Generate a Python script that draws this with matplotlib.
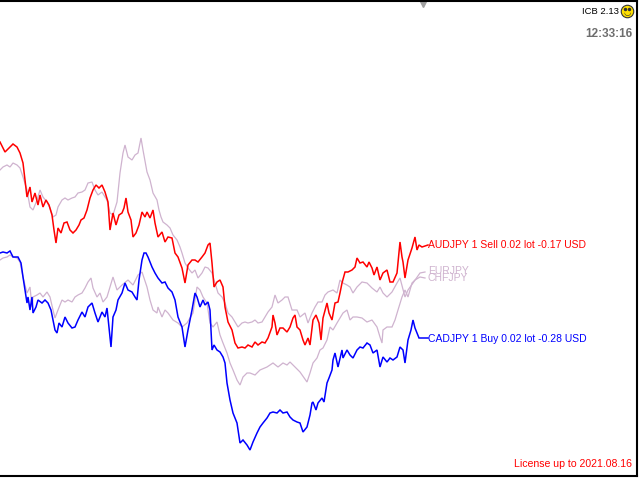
import matplotlib
matplotlib.use("Agg")
import matplotlib.pyplot as plt

plt.rcParams["font.family"] = ["Liberation Sans", "DejaVu Sans"]

# points (x = bar position, y = screen level, top = 0)
aud_pts = [
    (0, 142), (5, 152), (10, 147), (13, 144), (17, 147), (20, 153), (23, 163), (25, 180), (27, 197), (30, 187),
    (32, 202), (35, 193), (38, 205), (40, 195), (43, 207), (46, 200), (49, 205), (52, 215), (54, 230), (56, 243),
    (58, 228), (61, 233), (64, 223), (67, 222), (70, 230), (73, 233), (76, 230), (79, 225), (81, 220), (84, 218),
    (87, 210), (90, 198), (93, 190), (96, 185), (99, 188), (102, 185), (105, 192), (108, 202), (110, 230), (113, 213),
    (116, 225), (119, 215), (122, 213), (124, 208), (126, 198), (128, 212), (131, 220), (133, 237), (136, 233), (139, 225),
    (142, 212), (145, 217), (147, 212), (150, 218), (153, 210), (155, 223), (158, 237), (162, 232), (165, 242), (168, 237),
    (172, 238), (175, 253), (178, 257), (182, 268), (185, 283), (188, 265), (192, 260), (195, 260), (198, 262), (202, 257),
    (205, 253), (208, 245), (210, 243), (212, 263), (214, 287), (217, 282), (220, 280), (223, 287), (225, 307), (228, 322),
    (232, 330), (235, 343), (238, 348), (242, 347), (245, 348), (248, 345), (252, 347), (255, 342), (258, 345), (262, 342),
    (265, 343), (268, 338), (272, 327), (273, 315), (275, 323), (277, 335), (280, 328), (283, 328), (287, 332), (290, 327),
    (293, 318), (295, 315), (297, 327), (300, 330), (303, 340), (305, 345), (308, 338), (310, 345), (313, 320), (316, 315),
    (319, 323), (321, 340), (323, 318), (327, 303), (329, 313), (332, 320), (335, 303), (338, 302), (340, 293), (342, 283),
    (345, 272), (348, 272), (352, 270), (355, 267), (357, 258), (360, 263), (363, 262), (367, 267), (369, 262), (372, 268),
    (374, 275), (377, 267), (380, 280), (383, 273), (387, 270), (390, 282), (393, 282), (397, 273), (400, 242), (402, 257),
    (403, 262), (405, 278), (408, 260), (412, 248), (415, 237), (417, 250), (419, 245), (422, 247), (428, 245),
]

cad_pts = [
    (0, 253), (3, 252), (7, 253), (10, 251), (13, 257), (18, 257), (21, 263), (23, 277), (25, 290), (27, 303),
    (28, 297), (30, 310), (32, 297), (33, 313), (36, 307), (38, 300), (42, 303), (45, 300), (48, 303), (51, 310),
    (53, 320), (55, 330), (57, 333), (59, 323), (62, 327), (65, 317), (68, 323), (72, 328), (75, 327), (78, 320),
    (82, 312), (85, 317), (88, 307), (92, 303), (95, 313), (98, 322), (102, 312), (105, 317), (107, 308), (109, 327),
    (111, 347), (113, 317), (116, 310), (118, 300), (122, 293), (125, 283), (128, 290), (132, 292), (135, 297), (137, 300),
    (139, 280), (142, 260), (144, 253), (146, 253), (148, 257), (152, 267), (155, 273), (158, 278), (162, 283), (165, 282),
    (168, 288), (172, 292), (175, 300), (178, 317), (182, 327), (185, 347), (188, 330), (192, 310), (195, 293), (197, 297),
    (200, 307), (203, 300), (205, 305), (208, 302), (210, 310), (212, 350), (214, 345), (217, 350), (220, 352), (223, 357),
    (225, 363), (227, 383), (230, 400), (233, 413), (237, 423), (240, 443), (243, 440), (247, 445), (250, 450), (253, 442),
    (257, 433), (260, 427), (263, 423), (267, 418), (270, 413), (273, 412), (277, 413), (280, 410), (283, 413), (287, 412),
    (290, 417), (293, 420), (297, 422), (300, 423), (303, 432), (307, 427), (310, 415), (312, 403), (313, 402), (316, 410),
    (318, 403), (322, 398), (324, 402), (327, 383), (329, 378), (332, 370), (333, 360), (335, 353), (338, 367), (342, 350),
    (343, 358), (347, 350), (350, 355), (353, 358), (357, 350), (360, 347), (363, 348), (367, 343), (370, 345), (373, 353),
    (377, 350), (380, 367), (383, 357), (387, 362), (390, 358), (393, 360), (397, 357), (400, 347), (403, 350), (405, 363),
    (408, 340), (411, 330), (413, 320), (415, 328), (417, 333), (419, 338), (428, 338),
]

eur_pts = [
    (0, 170), (3, 167), (7, 165), (10, 167), (13, 163), (17, 165), (20, 168), (23, 177), (27, 190), (30, 207),
    (33, 210), (37, 200), (40, 190), (43, 197), (47, 202), (50, 208), (53, 217), (56, 215), (58, 207), (62, 200),
    (65, 198), (68, 200), (72, 198), (75, 197), (78, 193), (82, 192), (85, 190), (88, 183), (92, 182), (95, 190),
    (98, 195), (102, 192), (105, 197), (107, 200), (110, 213), (113, 215), (117, 202), (120, 173), (123, 153), (125, 145),
    (128, 157), (132, 160), (135, 155), (138, 153), (141, 138), (143, 150), (147, 172), (150, 180), (153, 193), (157, 200),
    (159, 210), (161, 217), (163, 222), (167, 225), (170, 228), (173, 235), (177, 240), (180, 247), (182, 253), (185, 263),
    (188, 268), (192, 273), (195, 270), (198, 278), (202, 273), (205, 267), (208, 268), (212, 273), (215, 283), (218, 293),
    (222, 297), (225, 303), (228, 313), (232, 317), (235, 322), (238, 327), (242, 323), (245, 322), (248, 323), (252, 322),
    (255, 320), (258, 323), (262, 322), (265, 317), (268, 312), (272, 307), (275, 295), (278, 303), (282, 300), (285, 297),
    (288, 297), (292, 310), (297, 310), (300, 317), (305, 313), (308, 323), (312, 313), (315, 307), (318, 302), (322, 302),
    (325, 295), (328, 292), (333, 290), (337, 293), (340, 280), (343, 283), (347, 285), (350, 287), (353, 293), (357, 287),
    (362, 282), (367, 283), (372, 288), (377, 292), (380, 287), (383, 293), (387, 297), (392, 292), (397, 283), (400, 278),
    (405, 297), (408, 290), (413, 283), (420, 273), (425, 272),
]

chf_pts = [
    (0, 260), (3, 258), (7, 257), (10, 255), (13, 257), (17, 258), (20, 262), (23, 277), (27, 293), (30, 287),
    (32, 307), (33, 297), (37, 295), (40, 293), (43, 297), (47, 292), (50, 297), (53, 310), (55, 318), (58, 310),
    (62, 300), (65, 302), (68, 300), (72, 302), (75, 297), (78, 295), (82, 293), (85, 288), (88, 282), (91, 278),
    (93, 288), (97, 297), (100, 293), (103, 302), (107, 297), (110, 287), (113, 277), (117, 290), (122, 285), (128, 280),
    (133, 285), (138, 275), (142, 272), (147, 287), (150, 300), (153, 310), (157, 313), (158, 307), (162, 317), (165, 310),
    (168, 313), (173, 320), (178, 323), (182, 327), (187, 323), (193, 313), (197, 287), (200, 290), (203, 297), (207, 303),
    (210, 323), (213, 327), (217, 322), (220, 335), (223, 343), (227, 353), (230, 363), (233, 370), (237, 380), (240, 385),
    (243, 377), (247, 373), (250, 373), (255, 375), (260, 370), (267, 367), (273, 363), (278, 367), (283, 363), (287, 365),
    (290, 362), (295, 367), (300, 372), (307, 382), (310, 373), (313, 363), (317, 358), (320, 350), (323, 348), (327, 340),
    (330, 327), (333, 330), (337, 323), (340, 318), (343, 313), (347, 310), (350, 320), (353, 317), (357, 317), (362, 318),
    (367, 322), (372, 320), (377, 327), (380, 337), (382, 343), (383, 330), (387, 327), (392, 327), (395, 320), (398, 310),
    (402, 297), (405, 290), (408, 297), (412, 283), (415, 280), (420, 277), (425, 278),
]

aud_label = "AUDJPY 1 Sell 0.02 lot -0.17 USD"
cad_label = "CADJPY 1 Buy 0.02 lot -0.28 USD"
version = "ICB 2.13"
clock = "12:33:16"
licence = "License up to 2021.08.16"

thistle = "#cfb3cf"

fig = plt.figure(figsize=(6.4, 4.8), dpi=100)
ax = fig.add_axes([0, 4 / 480, 637 / 640, 475 / 480])
ax.set_xlim(0, 637)
ax.set_ylim(476, 1)
ax.set_xticks([])
ax.set_yticks([])
ax.spines["left"].set_visible(False)
for s in ("top", "bottom", "right"):
    ax.spines[s].set_linewidth(1.5)


def draw(pts, color, lw):
    xs = [p[0] for p in pts]
    ys = [p[1] for p in pts]
    ax.plot(xs, ys, color=color, lw=lw, solid_joinstyle="miter")


draw(eur_pts, thistle, 0.9)
draw(chf_pts, thistle, 0.9)
draw(aud_pts, "#ff0000", 1.1)
draw(cad_pts, "#0000ff", 1.1)

# the two thistle labels sit on top of each other in the terminal too
ax.text(428, 245, aud_label, color="#ff0000", fontsize=7.5, va="center")
ax.text(428, 271, "EURJPY", color=thistle, fontsize=7.5, va="center")
ax.text(428, 278, "CHFJPY", color=thistle, fontsize=7.5, va="center")
ax.text(428, 339, cad_label, color="#0000ff", fontsize=7.5, va="center")

ax.text(619, 11, version, color="black", fontsize=6.8, ha="right", va="center")
ax.plot([627], [11], marker="o", ms=9, mfc="#ffe000", mec="#333333", mew=0.8)
ax.plot([625, 629], [9, 9], ls="none", marker="o", ms=1.5, color="#333333")
ax.text(627, 12.5, "\u25e1", color="#333333", fontsize=6, ha="center", va="center",
        family=["DejaVu Sans"])
ax.text(632, 34, clock, color="#6e6e6e", fontsize=8.5, fontweight="bold", ha="right", va="center")
ax.text(632, 464, licence, color="#ff0000", fontsize=7.6, ha="right", va="center")

ax.plot([423], [4], marker="v", ms=4, color="#a0a0a0")

fig.savefig("out.png", dpi=100)
